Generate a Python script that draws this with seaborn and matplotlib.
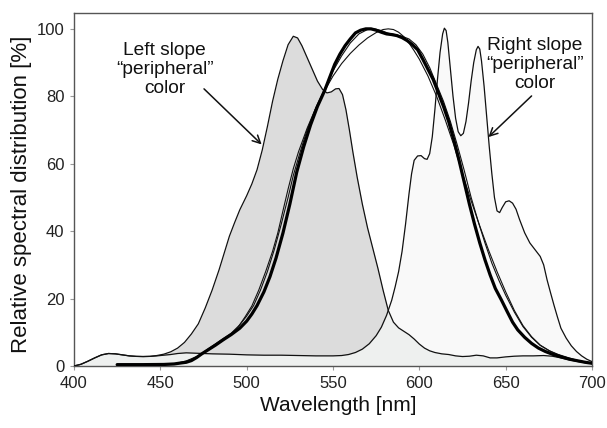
import numpy as np
import pandas as pd
import matplotlib
matplotlib.use("Agg")
import matplotlib.pyplot as plt
import seaborn as sns

# ---- data ----
left_wl = [400, 404, 408, 412, 416, 420, 424, 428, 432, 436, 440, 444, 448, 452, 456, 460, 464, 468,
           472, 476, 480, 484, 487, 490, 493, 496, 500, 503, 506, 509, 512, 515, 518, 521, 524, 527,
           529.5, 532, 535, 538, 541, 544, 546.5, 549, 551.5, 553.5, 555.5, 557.5, 559.5, 561.5, 564,
           567, 570, 573, 576, 579, 582, 585, 588, 591, 594, 597, 600, 603, 606, 609, 613, 617, 621,
           625, 629, 633, 637, 641, 645, 650, 655, 660, 666, 672, 677, 682, 687, 693, 700]
left_val = [0, 0.5, 1.4, 2.4, 3.3, 3.7, 3.6, 3.3, 3.0, 2.85, 2.8, 2.85, 3.1, 3.5, 4.2, 5.3, 7.0, 9.5,
            12.5, 17.2, 22.5, 28.5, 33.5, 38.5, 42.5, 46.3, 50.5, 54, 58.2, 64, 71, 78.5, 85, 90.5, 95.3, 97.8,
            97.3, 95, 91.5, 88, 84.5, 82, 81, 81.3, 82.2, 82.3, 80.5, 76, 70, 63.5, 56,
            48, 41, 35, 29, 22.5, 16.5, 13, 11.3, 10.3, 9.3, 8, 6.5, 5.3, 4.5, 4.0, 3.6, 3.4, 3.0,
            2.8, 2.9, 3.2, 3.0, 2.4, 2.4, 2.7, 2.9, 3.0, 3.0, 3.1, 2.9, 2.4, 1.8, 1.2, 0.7]

right_wl = [400, 404, 408, 412, 416, 420, 424, 428, 432, 436, 440, 444, 448, 452, 456, 460, 465, 470,
            480, 490, 500, 510, 520, 530, 540, 550, 555, 559, 563, 567, 571, 575, 578, 581, 584, 586,
            588, 590, 592, 594, 595.5, 597, 599, 601, 603, 604.5, 606, 607.5, 609, 610.5, 612, 613.5,
            614.5, 615.5, 616.5, 618, 619.5, 621, 622.5, 624, 625.5, 627, 628.5, 630, 631.5, 633, 634,
            635, 636, 637.5, 639, 640.5, 642, 643.5, 645, 646.5, 648, 650, 652, 654, 656, 658, 661,
            664, 667, 670, 672, 674, 676, 678, 680, 682, 685, 688, 691, 694, 697, 700]
right_val = [0, 0.5, 1.4, 2.4, 3.3, 3.7, 3.6, 3.3, 3.0, 2.85, 2.8, 2.85, 3.0, 3.2, 3.4, 3.7, 3.9, 3.8,
             3.6, 3.5, 3.3, 3.2, 3.2, 3.1, 3.0, 3.0, 3.1, 3.4, 4.0, 5.0, 6.6, 9.0, 11.5, 15, 19.5, 23.5,
             28, 34, 42, 51, 57, 61, 62.3, 62.4, 61.5, 61.3, 63, 68, 76, 85, 93, 98.5,
             100.2, 99.5, 96, 88, 80, 73.5, 69.5, 68.3, 69, 72.5, 78, 84.5, 90, 93.8, 94.8,
             94, 90.5, 83, 74, 65, 57, 50, 46, 45.5, 47, 48.7, 49, 48.3, 46.5, 43.5, 39.5,
             36.5, 34.5, 32.5, 30, 25.5, 21.7, 18, 14.5, 11.2, 8.3, 6, 4.3, 3, 2, 1.3]

thick_wl = [425, 440, 452, 458, 462, 465, 468, 471, 474, 478, 482, 486.5, 491, 496, 500, 503, 506, 510,
            513.5, 517, 521, 525, 529, 533, 537, 541, 545, 548, 551, 554, 557, 560, 563, 566, 569, 572,
            575, 578, 581, 584, 587, 590, 593, 596, 599, 602, 605, 608, 611, 614, 617, 620, 623, 626,
            629, 632, 635, 638, 641, 644, 647.5, 651, 654, 657, 661, 665, 669, 673, 677, 682, 687,
            692, 696, 700]
thick_val = [0.4, 0.4, 0.45, 0.6, 0.9, 1.1, 1.6, 2.5, 3.6, 4.9, 6.2, 7.8, 9.3, 11.2, 13.3, 15.4, 17.9, 22,
             26.5, 32, 39.4, 48, 57.5, 65, 71.5, 77, 81.5, 85.5, 89.5, 92.5, 95, 97, 98.8, 99.6, 100, 100,
             99.6, 99, 98.5, 98.3, 98, 97.4, 96.5, 95.3, 93.8, 91, 88, 85, 81, 77, 72.5, 67, 61, 54.5,
             48, 42, 36.5, 31.5, 27, 23, 19.6, 16, 13, 10.7, 8.5, 6.7, 5.3, 4.3, 3.5, 2.7, 2,
             1.5, 1.1, 0.8]

thin_wl = [458, 465, 472, 478, 484, 490, 495, 499, 503, 507, 511, 515, 518, 521, 524, 527, 530, 535,
           540, 545, 550, 555, 560, 565, 570, 575, 579, 582, 585, 588, 591, 594, 597, 600, 605, 610,
           615, 620, 625, 630, 635, 640, 645, 650, 655, 660, 665, 670, 676, 682, 688, 694, 700]
thin_val = [0.6, 1.5, 3, 4.8, 6.8, 8.9, 11.5, 14.5, 17.8, 22.5, 28, 34, 39.4, 46, 52.5, 58.5, 63.5, 70.5,
            76.5, 81.5, 86, 89.7, 92.7, 95.2, 97.3, 98.9, 99.8, 100, 99.8, 99, 97.7, 95.8, 93.5, 91, 86, 80,
            73, 65.5, 57, 49, 41.5, 34.5, 28, 22, 16.5, 12, 8.7, 6.2, 4.3, 3, 2, 1.3, 0.8]

thin2_wl = [470, 478, 486, 491, 496, 500, 504, 508, 512, 516, 520, 524, 527, 531, 535, 540, 545, 550,
            555, 560, 565, 570, 574, 578, 582, 586, 590, 594, 598, 602, 606, 610, 614, 618, 622, 626,
            630, 634, 638, 642, 646, 650, 655, 660, 665, 670, 675, 680, 686, 692, 700]
thin2_val = [2.2, 5.2, 8.0, 9.7, 12.2, 14.8, 17.9, 22.5, 28, 34.5, 42, 50, 56.5, 63.5, 70, 76.5, 82, 87.5,
             92, 95.8, 98.5, 99.8, 100, 99.5, 98.7, 98.3, 97.8, 97, 95.3, 92.5, 88.5, 83.5, 78.5, 72.5, 65.5, 58,
             50, 43, 36.5, 30.5, 25.5, 21, 16, 11.7, 8.5, 6.1, 4.6, 3.5, 2.5, 1.6, 0.8]

x_ticks = [400, 450, 500, 550, 600, 650, 700]
y_ticks = [0, 20, 40, 60, 80, 100]
x_label = "Wavelength [nm]"
y_label = "Relative spectral distribution [%]"
left_note = "Left slope\n\u201cperipheral\u201d\ncolor"
right_note = "Right slope\n\u201cperipheral\u201d\ncolor"

# ---- style ----
sns.set_style("ticks")
plt.rcParams['font.family'] = ['Liberation Sans', 'DejaVu Sans']

fig = plt.figure(figsize=(6.07, 4.28), dpi=100)
ax = fig.add_axes([0.1219, 0.1449, 0.8534, 0.8247])

# fills: gray under left curve, very light under right curve, light overlap
grid = np.array(sorted(set(left_wl) | set(right_wl)), dtype=float)
L = np.interp(grid, left_wl, left_val)
R = np.interp(grid, right_wl, right_val)
ax.fill_between(grid, 0, L, color="#dcdcdc", lw=0, zorder=1)
ax.fill_between(grid, L, R, where=R >= L, interpolate=True, color="#f9f9f9", lw=0, zorder=1.5)
ax.fill_between(grid, 0, np.minimum(L, R), color="#eef0ef", lw=0, zorder=1.7)

df_left = pd.DataFrame({"wl": left_wl, "v": left_val})
df_right = pd.DataFrame({"wl": right_wl, "v": right_val})
df_thick = pd.DataFrame({"wl": thick_wl, "v": thick_val})
df_thin = pd.DataFrame({"wl": thin_wl, "v": thin_val})
df_thin2 = pd.DataFrame({"wl": thin2_wl, "v": thin2_val})

sns.lineplot(data=df_left, x="wl", y="v", ax=ax, color="#111111", lw=0.9, zorder=3)
sns.lineplot(data=df_right, x="wl", y="v", ax=ax, color="#111111", lw=0.9, zorder=3)
sns.lineplot(data=df_thin, x="wl", y="v", ax=ax, color="#111111", lw=0.8, zorder=4)
sns.lineplot(data=df_thin2, x="wl", y="v", ax=ax, color="#111111", lw=0.8, zorder=4)
sns.lineplot(data=df_thick, x="wl", y="v", ax=ax, color="#000000", lw=2.3, zorder=5)

ax.set_xlim(400, 700)
ax.set_ylim(0, 104.7)
ax.set_xticks(x_ticks)
ax.set_yticks(y_ticks)
ax.tick_params(axis="both", labelsize=12, length=3, width=0.8, color="#999999",
               labelcolor="#222222", pad=4)
for s in ax.spines.values():
    s.set_visible(True)
    s.set_color("#555555")
    s.set_linewidth(1.0)
ax.set_xlabel(x_label, fontsize=15, color="#111111")
ax.set_ylabel(y_label, fontsize=16, color="#111111")
ax.xaxis.set_label_coords(0.51, -0.085)
ax.yaxis.set_label_coords(-0.082, 0.487)

ax.text(452.5, 88, left_note, ha="center", va="center", fontsize=13.8,
        color="#111111", linespacing=1.15, zorder=6)
ax.text(667, 89.5, right_note, ha="center", va="center", fontsize=13.8,
        color="#111111", linespacing=1.15, zorder=6)
ax.annotate("", xy=(508.7, 65.7), xytext=(475.3, 82.2),
            arrowprops=dict(arrowstyle="->", color="#111111", lw=1.1,
                            shrinkA=0, shrinkB=0, mutation_scale=14), zorder=6)
ax.annotate("", xy=(640, 67.9), xytext=(665, 80.1),
            arrowprops=dict(arrowstyle="->", color="#111111", lw=1.1,
                            shrinkA=0, shrinkB=0, mutation_scale=14), zorder=6)

fig.savefig("out.png", dpi=100)
